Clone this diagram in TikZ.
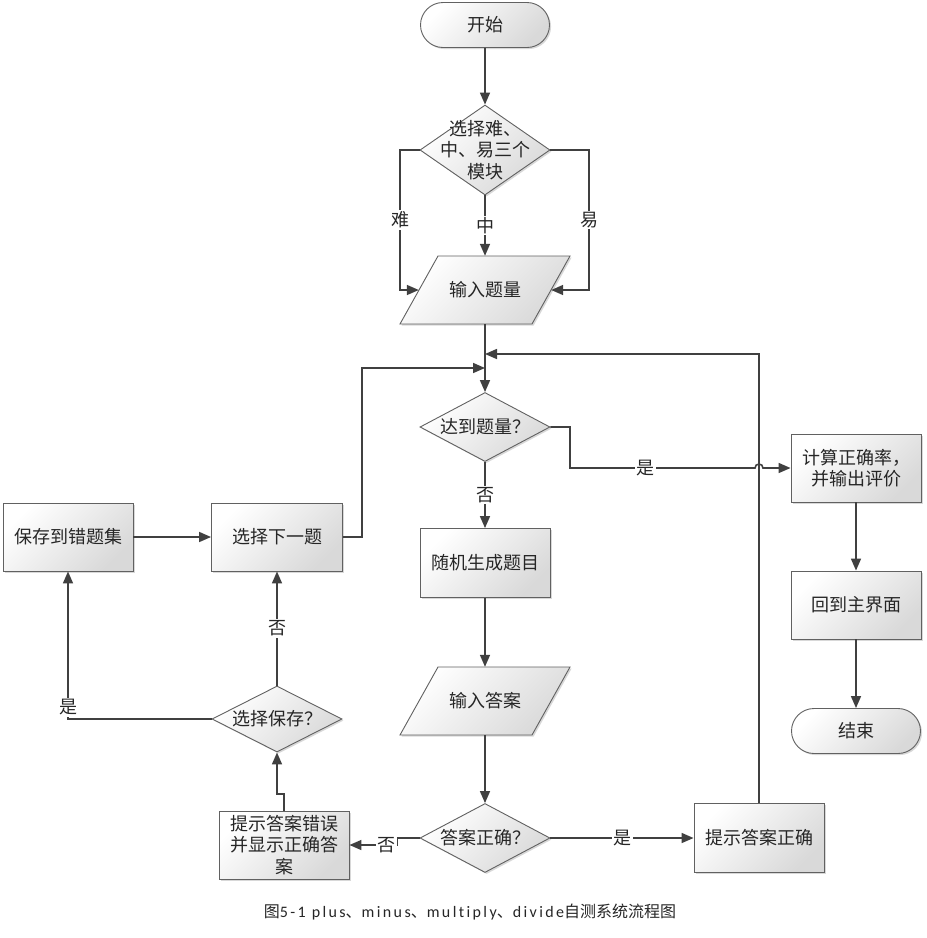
\documentclass[tikz,border=0pt]{standalone}
\usepackage{fontspec}
\setmainfont{Noto Sans CJK SC}
\newfontfamily\carl[LetterSpace=15, Ligatures=NoCommon]{Carlito}
\usetikzlibrary{arrows.meta,shapes.geometric,shapes.misc,shadows}
\begin{document}
\begin{tikzpicture}[x=1pt,y=-1pt,
  every node/.style={text=black!85},
  ln/.style={draw=black!75, line width=1.6pt},
  arr/.style={ln, -{Triangle[length=12pt,width=10pt]}},
  shd/.style={top color=white, bottom color=black!15, shading angle=45, draw=black!62, line width=0.9pt, drop shadow={shadow xshift=1.6pt, shadow yshift=-1.6pt, opacity=0.3}},
  txt/.style={font=\fontsize{18}{21.5}\selectfont, align=center},
  box/.style={shd, txt, rectangle, minimum width=130pt, minimum height=69pt, inner sep=1pt},
  term/.style={shd, txt, rounded rectangle, minimum width=131pt, minimum height=45pt, inner sep=1pt},
  dia/.style={shd, diamond, inner sep=0pt, minimum width=130pt},
  io/.style={txt, rectangle, minimum width=132pt, minimum height=68pt, inner sep=0pt},
  lbl/.style={txt, fill=white, inner sep=1.5pt},
]
\fill[white] (0,0) rectangle (927,938);
\useasboundingbox (0,0) rectangle (927,938);

% nodes
\node[term] (start) at (485,25) {开始};
\node[dia, minimum height=90pt, label={[txt]center:{选择难、\\中、易三个\\模块}}] (d1) at (485,150) {};
\path[shd] (438,256) -- (570,256) -- (532,324) -- (400,324) -- cycle;
\node[io] (p1) at (485,290) {输入题量};
\node[dia, minimum height=69pt, label={[txt]center:达到题量？}] (d2) at (485,427) {};
\node[box] (rand) at (485,563) {随机生成题目};
\path[shd] (438,667) -- (570,667) -- (532,735) -- (400,735) -- cycle;
\node[io] (p2) at (485,701) {输入答案};
\node[dia, minimum height=69pt, label={[txt]center:答案正确？}] (d3) at (485,838) {};
\node[box] (ok) at (759,838) {提示答案正确};
\node[box, minimum height=68pt] (wrong) at (284,845) {提示答案错误\\并显示正确答\\案};
\node[dia, minimum height=66pt, label={[txt]center:选择保存？}] (d4) at (277,719) {};
\node[box, minimum width=131pt, minimum height=68pt] (next) at (277,537) {选择下一题};
\node[box, minimum height=68pt] (save) at (68,537) {保存到错题集};
\node[box, minimum height=68pt] (calc) at (856,468) {计算正确率，\\并输出评价};
\node[box, minimum height=68pt] (main) at (856,605) {回到主界面};
\node[term] (end) at (856,731) {结束};

\coordinate (j1) at (485,368);
\coordinate (j2) at (485,354);

% connectors
\draw[arr] (start) -- (d1);
\draw[arr] (d1.west) -- (400,150) -- node[lbl]{难} (400,290) -- (p1.west);
\draw[arr] (d1.east) -- (589,150) -- node[lbl]{易} (589,290) -- (p1.east);
\draw[arr] (d1.south) -- node[lbl]{中} (p1.north);
\draw[arr] (p1.south) -- (d2.north);
\draw[arr] (next.east) -- (362,537) -- (362,368) -- (j1);
\draw[arr] (ok.north) -- (759,354) -- (j2);
\draw[arr] (d2.east) -- (570,427) -- (570,468) -- node[lbl, pos=0.41]{是} (755,468) arc (180:360:4) -- (calc.west);
\draw[arr] (d2.south) -- node[lbl]{否} (rand.north);
\draw[arr] (rand.south) -- (p2.north);
\draw[arr] (p2.south) -- (d3.north);
\draw[arr] (d3.east) -- node[lbl]{是} (ok.west);
\draw[arr] (d3.west) -- (397,838) -- (397,845) -- node[lbl, pos=0.22]{否} (wrong.east);
\draw[arr] (wrong.north) -- (284,794) -- (277,794) -- (d4.south);
\draw[arr] (d4.north) -- node[lbl]{否} (next.south);
\draw[arr] (d4.west) -- (68,719) -- node[lbl, pos=0.08]{是} (save.south);
\draw[arr] (save.east) -- (next.west);
\draw[arr] (calc) -- (main);
\draw[arr] (main) -- (end);

\node[font=\fontsize{16}{18}\selectfont] (cap) at (470,912) {图{\carl 5-1 plus}、{\carl minus}、{\carl multiply}、{\carl divide}自测系统流程图};
\end{tikzpicture}
\end{document}
